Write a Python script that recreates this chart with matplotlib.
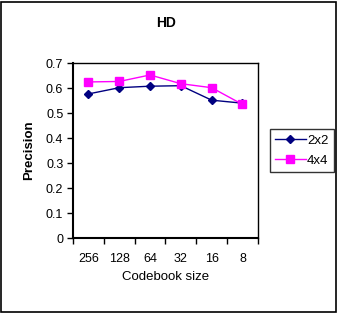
import matplotlib
matplotlib.use('agg')
import matplotlib.pyplot as plt
from matplotlib.patches import Rectangle

plt.rcParams['font.family'] = ['Liberation Sans', 'DejaVu Sans']

codebook = ['256', '128', '64', '32', '16', '8']
prec_2x2 = [0.577, 0.602, 0.608, 0.610, 0.552, 0.540]
prec_4x4 = [0.625, 0.627, 0.653, 0.618, 0.602, 0.535]

fig = plt.figure(figsize=(3.38, 3.13), dpi=100)
ax = fig.add_axes([0.216, 0.2396, 0.547, 0.5584])

x = range(len(codebook))
ax.plot(x, prec_2x2, color='#000080', marker='D', markersize=4.5, lw=1, label='2x2')
ax.plot(x, prec_4x4, color='#FF00FF', marker='s', markersize=6, lw=1, label='4x4')

ax.set_xlim(-0.5, len(codebook) - 0.5)
ax.set_ylim(0, 0.7)
ax.set_yticks([0, 0.1, 0.2, 0.3, 0.4, 0.5, 0.6, 0.7])
ax.set_yticklabels(['0', '0.1', '0.2', '0.3', '0.4', '0.5', '0.6', '0.7'])
ax.set_xticks(list(x))
ax.set_xticklabels(codebook)
ax.set_xticks([i - 0.5 for i in range(len(codebook) + 1)], minor=True)
ax.tick_params(axis='x', which='major', length=0, pad=11, labelsize=9)
ax.tick_params(axis='x', which='minor', length=4, width=1, direction='out')
ax.tick_params(axis='y', length=4, width=1, direction='out', labelsize=9, pad=3)
for s in ax.spines.values():
    s.set_linewidth(1)
ax.spines['left'].set_linewidth(1.5)
ax.spines['bottom'].set_linewidth(1.5)

ax.set_xlabel('Codebook size', fontsize=9.5, labelpad=4)
ax.set_ylabel('Precision', fontsize=9.5, fontweight='bold', labelpad=8)
fig.text(0.49, 0.928, 'HD', fontsize=10, fontweight='bold', ha='center', va='center')

leg = ax.legend(loc='center left', bbox_to_anchor=(1.065, 0.5), fontsize=9.5,
                frameon=True, fancybox=False, edgecolor='black', handlelength=2.3,
                handletextpad=0.1, borderpad=0.4, labelspacing=0.6, borderaxespad=0)
leg.get_frame().set_linewidth(1)

fig.patches.append(Rectangle((0.003, 0.004), 0.992, 0.99, transform=fig.transFigure,
                             fill=False, edgecolor='black', lw=1.2))

fig.savefig('out.png', dpi=100)
